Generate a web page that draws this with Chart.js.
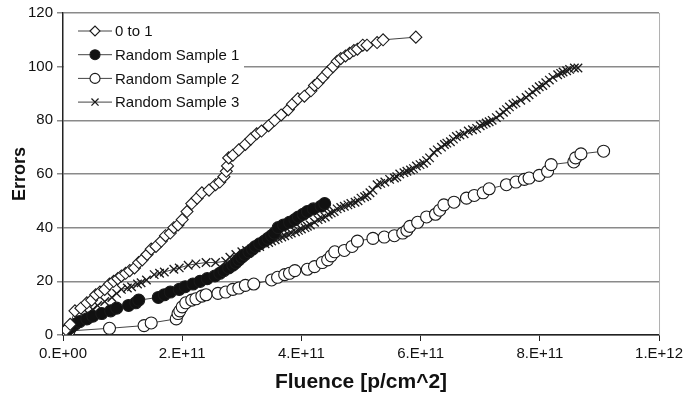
<!DOCTYPE html>
<html lang="en">
<head>
  <meta charset="UTF-8">
  <title>Errors vs Fluence</title>
  <script src="https://cdn.jsdelivr.net/npm/chart.js"></script>
  <style>
    html, body { margin: 0; padding: 0; background: #fff; }
    #wrap { width: 687px; height: 403px; }
  </style>
</head>
<body>
  <div id="wrap"><canvas id="grafico" width="687" height="403"></canvas></div>

  <script>
    // fluence is stored in units of 1e11 p/cm^2, errors as counts
    const FLUENCE_UNIT = 1e11;

    const seriesNames = ['0 to 1', 'Random Sample 1', 'Random Sample 2', 'Random Sample 3'];

    const zeroToOne = [
      [0,0],[0.05,2],[0.12,4],[0.2,9],[0.3,10],[0.4,12],[0.48,13],[0.55,15],[0.62,16],[0.7,17],
      [0.78,19],[0.85,20],[0.92,21],[0.98,22],[1.05,23],[1.12,24],[1.2,25],[1.27,27],[1.33,28],[1.41,30],
      [1.48,32],[1.56,33],[1.65,35],[1.72,37],[1.8,38],[1.86,40],[1.93,41],[2.0,43],[2.08,46],[2.16,49],
      [2.25,51],[2.33,53],[2.45,54],[2.56,56],[2.63,57],[2.7,59],[2.74,61],[2.76,63],[2.78,66],[2.85,67],
      [2.95,69],[3.06,71],[3.15,73],[3.25,75],[3.33,76],[3.45,78],[3.55,80],[3.66,82],[3.78,84],[3.85,86],
      [3.94,88],[4.05,89],[4.16,91],[4.22,93],[4.28,94],[4.36,96],[4.44,98],[4.53,100],[4.6,102],[4.66,103],
      [4.74,104],[4.81,105],[4.88,106],[4.94,106.5],[5.03,108],[5.1,108],[5.27,109],[5.37,110],[5.92,111]
    ];

    const sample1 = [
      [0,0],[0.04,1],[0.08,2],[0.14,3],[0.2,4],[0.28,5],[0.4,6],[0.5,7],[0.65,8],[0.8,9],
      [0.9,10],[1.1,11],[1.22,12],[1.27,13],[1.6,14],[1.7,15],[1.8,16],[1.95,17],[2.05,18],[2.18,19],
      [2.3,20],[2.42,21],[2.55,22],[2.63,23],[2.7,24],[2.78,25],[2.85,26],[2.9,27],[2.95,28],[3.0,29],
      [3.05,30],[3.12,31],[3.18,32],[3.23,33],[3.3,34],[3.38,35],[3.44,36],[3.5,37],[3.55,38],[3.61,40],
      [3.7,41],[3.8,42],[3.89,43],[3.95,44],[4.03,45],[4.1,46],[4.2,47],[4.33,48],[4.39,49]
    ];

    const sample2 = [
      [0,0],[0.05,1],[0.1,1.5],[0.78,2.5],[1.36,3.5],[1.48,4.5],[1.9,6],[1.93,8],[1.96,9],[2.0,10.5],
      [2.06,12],[2.16,13],[2.23,13.5],[2.33,14.5],[2.4,15],[2.6,15.5],[2.73,16],[2.85,17],[2.95,17.5],[3.06,18.5],
      [3.2,19],[3.5,20.5],[3.6,21.5],[3.72,22.5],[3.8,23],[3.89,24],[4.1,24.5],[4.22,25.5],[4.35,27],[4.44,28],
      [4.5,29.5],[4.56,31],[4.72,31.5],[4.85,33],[4.94,35],[5.2,36],[5.39,36.5],[5.56,37],[5.7,38],[5.77,39],
      [5.82,40.5],[5.95,42],[6.1,44],[6.25,45],[6.32,46.5],[6.39,48.5],[6.56,49.5],[6.77,51],[6.9,52],[7.05,53],
      [7.15,54.5],[7.44,56],[7.6,57],[7.74,58],[7.82,58.5],[7.99,59.5],[8.13,61],[8.19,63.5],[8.57,64.5],[8.6,66],
      [8.69,67.5],[9.07,68.5]
    ];

    const sample3 = [
      [0,0],[0.05,1],[0.12,2],[0.2,4],[0.28,6],[0.35,7],[0.42,8],[0.5,9.5],[0.58,11],[0.7,12.5],
      [0.82,14],[0.9,15.5],[0.98,17],[1.08,17.5],[1.15,18],[1.25,19],[1.31,19.5],[1.4,20.5],[1.53,22.5],[1.62,23],
      [1.7,23.5],[1.86,24.5],[1.95,25],[2.1,26],[2.23,26.5],[2.4,27],[2.56,27],[2.73,27.5],[2.8,29],[2.9,30],
      [3.0,31],[3.08,31.5],[3.16,32],[3.24,32.5],[3.3,33],[3.39,34],[3.45,34.5],[3.5,35],[3.56,35.5],[3.61,36],
      [3.67,36.5],[3.72,37],[3.78,37.5],[3.83,38],[3.9,38.5],[3.95,39],[4.0,39.5],[4.06,40],[4.1,40.5],[4.15,41],
      [4.22,42],[4.28,43],[4.34,43.5],[4.4,44],[4.45,45],[4.5,45.5],[4.55,46],[4.6,47],[4.66,47.5],[4.72,48],
      [4.78,48.5],[4.83,49],[4.9,49.5],[4.95,50],[5.0,51],[5.06,51.5],[5.1,52],[5.15,53],[5.2,54],[5.27,56],
      [5.33,56.5],[5.4,57],[5.48,58],[5.56,58.5],[5.6,59],[5.65,60],[5.72,60.5],[5.77,61],[5.83,61.5],[5.88,62],
      [5.93,63],[5.99,63.5],[6.05,64],[6.1,65],[6.15,66],[6.22,68],[6.28,69],[6.35,70],[6.4,71],[6.44,71.5],
      [6.5,72],[6.55,73],[6.6,74],[6.66,74.5],[6.73,75],[6.8,76],[6.87,76.5],[6.94,77],[7.0,78],[7.05,78.5],
      [7.1,79],[7.15,79.5],[7.2,80],[7.27,81],[7.33,82],[7.39,83],[7.44,84],[7.49,85],[7.55,86],[7.6,86.5],
      [7.68,87.5],[7.77,88.5],[7.82,89.5],[7.88,90.5],[7.94,91.5],[7.99,92.5],[8.05,93],[8.1,94],[8.16,95],[8.22,96],
      [8.3,97],[8.35,97.5],[8.39,98],[8.45,98.5],[8.5,99],[8.58,99.5],[8.64,99.5]
    ];

    const xTickLabels = ['0.E+00', '2.E+11', '4.E+11', '6.E+11', '8.E+11', '1.E+12'];
    const yTicks = [0, 20, 40, 60, 80, 100, 120];

    const FONT = 'Arial, "Liberation Sans", sans-serif';
    const pontos = arr => arr.map(([f, e]) => ({ x: f * FLUENCE_UNIT, y: e }));

    function serie(label, dados, estilo, fundo, raio) {
      return {
        label: label,
        data: pontos(dados),
        showLine: true,
        borderColor: '#444',
        borderWidth: 1,
        pointStyle: estilo,
        pointRadius: raio,
        pointBackgroundColor: fundo,
        pointBorderColor: '#1a1a1a',
        pointBorderWidth: estilo === 'crossRot' ? 1.3 : 1.1,
        pointHoverRadius: raio
      };
    }

    // legend drawn inside the plot, top-left, on a white box
    const legendaInterna = {
      id: 'legendaInterna',
      afterDraw(chart) {
        const ctx = chart.ctx;
        const a = chart.chartArea;
        ctx.save();
        ctx.fillStyle = '#fff';
        ctx.fillRect(a.left + 1, a.top + 3, 180, 100);
        ctx.font = '15px ' + FONT;
        ctx.textBaseline = 'middle';
        chart.data.datasets.forEach((ds, i) => {
          const y = a.top + 18 + i * 23.7;
          const x0 = a.left + 15;
          ctx.strokeStyle = '#444';
          ctx.lineWidth = 1;
          ctx.beginPath();
          ctx.moveTo(x0, y);
          ctx.lineTo(x0 + 34, y);
          ctx.stroke();
          ctx.fillStyle = ds.pointBackgroundColor;
          ctx.strokeStyle = ds.pointBorderColor;
          ctx.lineWidth = ds.pointBorderWidth;
          Chart.helpers.drawPoint(ctx, { pointStyle: ds.pointStyle, radius: 5, borderWidth: ds.pointBorderWidth, rotation: 0 }, x0 + 17, y);
          ctx.fillStyle = '#111';
          ctx.fillText(ds.label, x0 + 37, y + 1);
        });
        ctx.restore();
      }
    };

    const bordaDireita = {
      id: 'bordaDireita',
      beforeDatasetsDraw(chart) {
        const a = chart.chartArea;
        const ctx = chart.ctx;
        ctx.save();
        ctx.strokeStyle = '#b0b0b0';
        ctx.lineWidth = 1;
        ctx.beginPath();
        ctx.moveTo(a.right + 0.5, a.top);
        ctx.lineTo(a.right + 0.5, a.bottom);
        ctx.stroke();
        ctx.restore();
      }
    };

    new Chart(document.getElementById('grafico'), {
      type: 'scatter',
      data: {
        datasets: [
          serie(seriesNames[0], zeroToOne, 'rectRot', '#fff', 6),
          serie(seriesNames[1], sample1, 'circle', '#111', 6),
          serie(seriesNames[2], sample2, 'circle', '#fff', 6),
          serie(seriesNames[3], sample3, 'crossRot', '#fff', 6)
        ]
      },
      options: {
        responsive: false,
        animation: false,
        events: [],
        layout: { padding: { left: 5, top: 13, right: 23, bottom: 4 } },
        plugins: { legend: { display: false }, tooltip: { enabled: false } },
        scales: {
          x: {
            type: 'linear',
            min: 0,
            max: 10 * FLUENCE_UNIT,
            afterFit: s => { s.height = 64; },
            afterBuildTicks: s => { s.ticks = xTickLabels.map((_, i) => ({ value: i * 2 * FLUENCE_UNIT })); },
            ticks: {
              callback: (v, i) => xTickLabels[i],
              color: '#111',
              font: { family: FONT, size: 15 },
              padding: 4,
              maxRotation: 0
            },
            grid: { drawOnChartArea: false, drawTicks: true, tickLength: 6, color: '#222' },
            border: { color: '#222', width: 1.5 },
            title: { display: true, text: 'Fluence [p/cm^2]', color: '#111', font: { family: FONT, size: 21, weight: 'bold' } }
          },
          y: {
            min: 0,
            max: 120,
            afterFit: s => { s.width = 58; },
            afterBuildTicks: s => { s.ticks = yTicks.map(v => ({ value: v })); },
            ticks: {
              color: '#111',
              font: { family: FONT, size: 15 },
              padding: 4
            },
            grid: { color: '#8a8a8a', lineWidth: 1.5, tickLength: 6 },
            border: { color: '#222', width: 1.5 },
            title: { display: true, text: 'Errors', color: '#111', font: { family: FONT, size: 18, weight: 'bold' } }
          }
        }
      },
      plugins: [bordaDireita, legendaInterna]
    });
  </script>
</body>
</html>
